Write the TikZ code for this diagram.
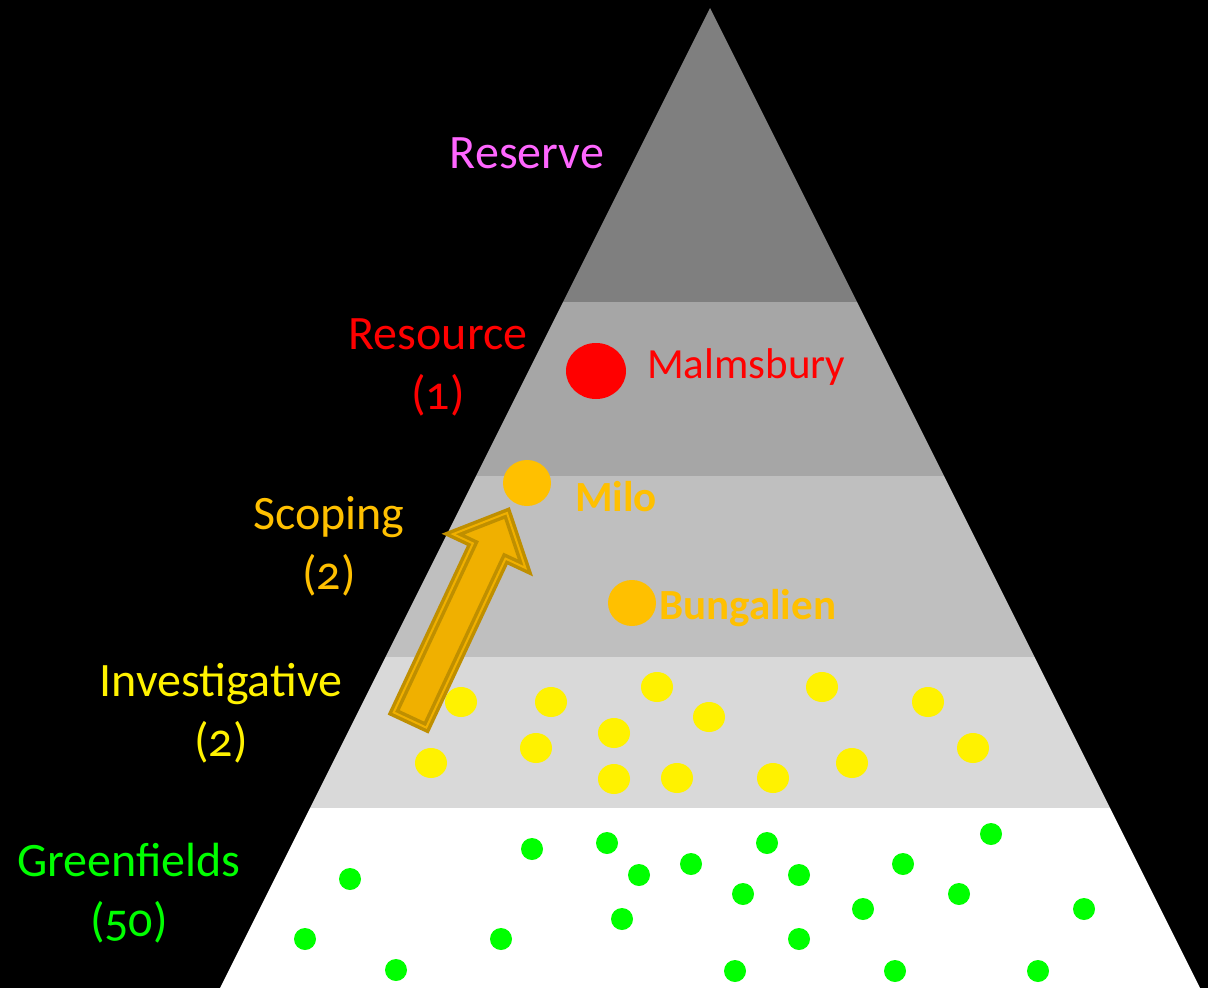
\documentclass[tikz,border=0pt]{standalone}
\usepackage{fontspec}
\setmainfont[Numbers=OldStyle]{Carlito}
\usepackage{tikz}
\usetikzlibrary{shapes.geometric}
\definecolor{grayA}{HTML}{7F7F7F}
\definecolor{grayB}{HTML}{A6A6A6}
\definecolor{grayC}{HTML}{BFBFBF}
\definecolor{grayD}{HTML}{D9D9D9}
\definecolor{resv}{HTML}{FF66FF}
\definecolor{amber}{HTML}{FFC000}
\definecolor{arrowfill}{HTML}{F0B000}
\definecolor{arrowedge}{HTML}{BF8F00}
\definecolor{green}{HTML}{00FF00}
\tikzset{
  label/.style={inner sep=0pt,align=center,font=\fontsize{48}{60}\selectfont},
  site/.style={inner sep=0pt,anchor=west,font=\fontsize{43}{50}\selectfont},
  dot/.style={ellipse,inner sep=0pt,draw=none},
}
\begin{document}
\begin{tikzpicture}[x=1pt,y=-1pt]
\fill[black] (0,0) rectangle (1208,988);
\useasboundingbox (0,0) rectangle (1208,988);
% pyramid bands
\foreach \ya/\yb/\col in {8/302/grayA, 302/476/grayB, 476/657/grayC, 657/808/grayD, 808/988/white}
  \fill[\col] ({710-0.5*(\ya-8)},\ya) -- ({710+0.5*(\ya-8)},\ya) -- ({710+0.5*(\yb-8)},\yb) -- ({710-0.5*(\yb-8)},\yb) -- cycle;
% stage labels
\node[label,text=resv] (reserve) at (527,153) {Reserve};
\node[label,text=red] (resource) at (438,367) {Resource\\(1)};
\node[label,text=amber] (scoping) at (329,546) {Scoping\\(2)};
\node[label,text=yellow] (invest) at (221,713) {Investigative\\(2)};
\node[label,text=green] (green) at (129,893) {Greenfields\\(50)};
% named sites
\node[dot,fill=red,minimum width=60pt,minimum height=56pt] (malm) at (596,371) {};
\node[site,text=red] (malmtext) at (647,367) {Malmsbury};
\node[dot,fill=amber,minimum width=48pt,minimum height=46pt] (milo) at (527,483) {};
\node[site,text=amber,font=\fontsize{43}{50}\selectfont\bfseries] (milotext) at (575,497) {Milo};
\node[dot,fill=amber,minimum width=48pt,minimum height=46pt] (bung) at (632,603) {};
\node[site,text=amber,font=\fontsize{43}{50}\selectfont\bfseries] (bungtext) at (659,608) {Bungalien};
% investigative prospects
\foreach \px/\py [count=\i] in {461/702, 551/702, 657/687, 709/717, 822/687, 928/702, 431/763,
    536/748, 614/733, 614/779, 677/778, 773/778, 852/763, 973/748}
  \node[dot,fill=yellow,minimum width=32pt,minimum height=30pt] (inv\i) at (\px,\py) {};
% greenfield prospects
\foreach \px/\py [count=\i] in {350/879, 305/939, 396/970, 501/939, 532/849, 607/843, 639/875,
    622/919, 691/864, 743/894, 767/843, 799/875, 799/939, 735/971, 863/909, 903/864,
    895/971, 959/894, 991/834, 1084/909, 1038/971}
  \node[dot,fill=green,minimum width=22pt,minimum height=22pt] (gf\i) at (\px,\py) {};
% promotion arrow
\coordinate (tl) at (393.7,712.4);
\coordinate (nl) at (472.9,543.4);
\coordinate (hl) at (453.0,534.1);
\coordinate (tip) at (507.0,513.0);
\coordinate (hr) at (525.4,567.9);
\coordinate (nr) at (505.5,558.6);
\coordinate (tr) at (426.3,727.6);
\draw[fill=arrowfill,draw=arrowedge,line width=3.5pt,double=arrowfill,double distance=2pt,line join=miter]
  (tl) -- (nl) -- (hl) -- (tip) -- (hr) -- (nr) -- (tr) -- cycle;
\end{tikzpicture}
\end{document}
